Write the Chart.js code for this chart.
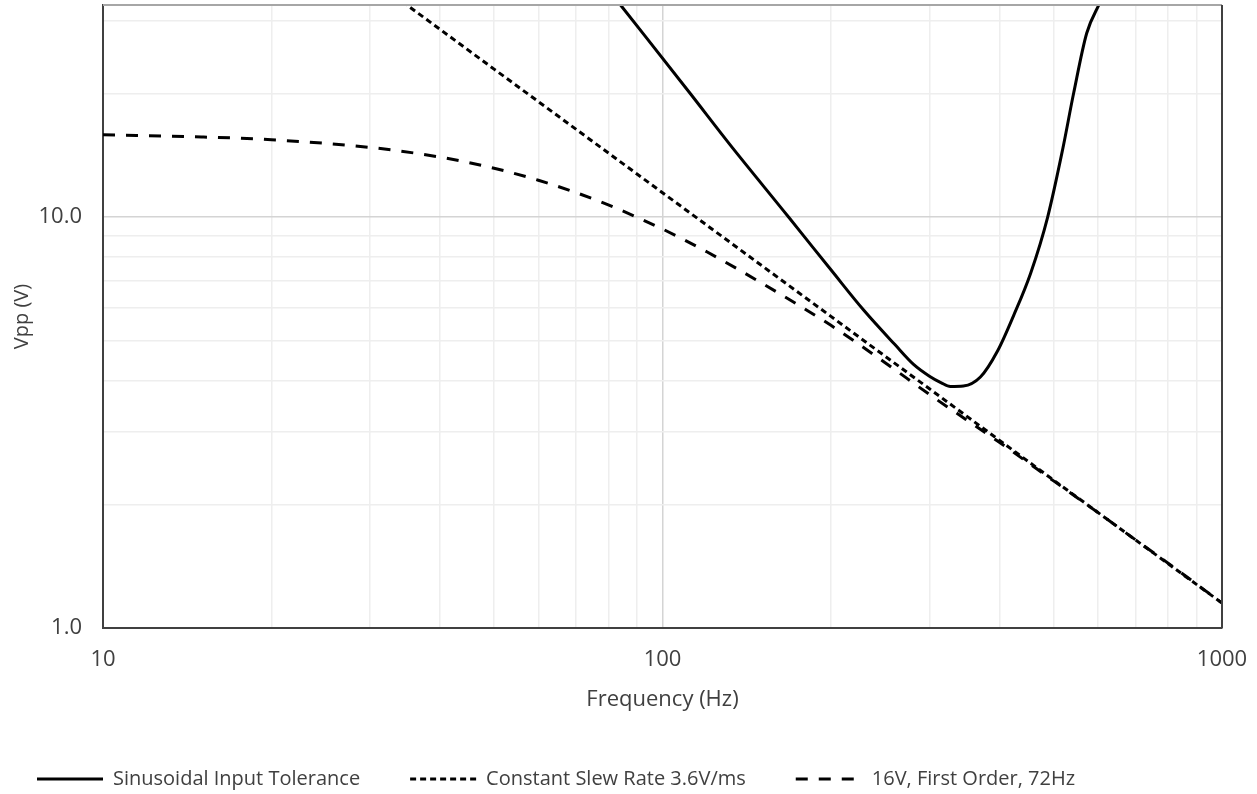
<!DOCTYPE html>
<html>
<head>
<meta charset="utf-8">
<script src="https://cdn.jsdelivr.net/npm/chart.js@4"></script>
<style>
  html, body { margin: 0; padding: 0; background: #fff; }
  #wrap { width: 1257px; height: 794px; }
</style>
</head>
<body>
<div id="wrap"><canvas id="chart"></canvas></div>
<script>
// Sinusoidal input tolerance (solid)
const sineFreq = [80, 84, 112, 132, 168, 186, 200, 229, 260, 281, 300, 315, 327, 345, 370, 397, 424, 455, 488, 519, 543, 573, 603, 620];
const sineVpp  = [35.8, 32.9, 20.0, 15.0, 10.0, 8.41, 7.44, 5.93, 4.9, 4.38, 4.1, 3.95, 3.87, 3.88, 4.08, 4.72, 5.75, 7.3, 10.0, 14.6, 20.0, 28.0, 32.9, 35.5];

// Constant slew rate 3.6V/ms (short dash)
const slewFreq = [30, 50, 100, 200, 300, 500, 1000];
const slewVpp  = [38.2, 22.9, 11.46, 5.73, 3.82, 2.29, 1.15];

// 16V first order 72Hz (long dash)
const firstFreq = [10, 15, 20, 30, 40, 50, 60, 70, 80, 100, 120, 150, 200, 250, 300, 400, 500, 600, 700, 800, 1000];
const firstVpp  = [15.85, 15.66, 15.42, 14.77, 13.99, 13.14, 12.29, 11.47, 10.70, 9.35, 8.23, 6.92, 5.45, 4.42, 3.70, 2.83, 2.28, 1.91, 1.64, 1.44, 1.15];

const xTicks = [10, 20, 30, 40, 50, 60, 70, 80, 90, 100, 200, 300, 400, 500, 600, 700, 800, 900, 1000];
const yTicks = [1, 2, 3, 4, 5, 6, 7, 8, 9, 10, 20, 30];
const xLabels = { 10: '10', 100: '100', 1000: '1000' };
const yLabels = { 1: '1.0', 10: '10.0' };

const FONT = 'Open Sans';
const TXT = '#404040';

function pts(xs, ys) {
  return xs.map((x, i) => ({ x: x, y: ys[i] }));
}

// frame around plot area (top and right edges)
const frame = {
  id: 'frame',
  afterLayout(chart) {
    // legend sits a bit left of its default start
    chart.legend.left -= 13;
    chart.legend.right -= 13;
  },
  afterDraw(chart) {
    const { ctx, chartArea: a } = chart;
    ctx.save();
    ctx.lineWidth = 2;
    ctx.strokeStyle = '#a6a6a6';
    ctx.beginPath();
    ctx.moveTo(a.left, a.top);
    ctx.lineTo(a.right, a.top);
    ctx.stroke();
    ctx.strokeStyle = '#404040';
    ctx.beginPath();
    ctx.moveTo(a.right, a.top);
    ctx.lineTo(a.right, a.bottom);
    ctx.stroke();
    ctx.restore();
  }
};

new Chart(document.getElementById('chart'), {
  type: 'scatter',
  data: {
    datasets: [
      {
        label: 'Sinusoidal Input Tolerance',
        data: pts(sineFreq, sineVpp),
        showLine: true,
        borderColor: '#000',
        borderWidth: 3,
        cubicInterpolationMode: 'monotone',
        pointRadius: 0
      },
      {
        label: 'Constant Slew Rate 3.6V/ms',
        data: pts(slewFreq, slewVpp),
        showLine: true,
        borderColor: '#000',
        borderWidth: 3,
        borderDash: [6, 4],
        tension: 0,
        pointRadius: 0
      },
      {
        label: '16V, First Order, 72Hz',
        data: pts(firstFreq, firstVpp),
        showLine: true,
        borderColor: '#000',
        borderWidth: 3,
        borderDash: [12, 11],
        cubicInterpolationMode: 'monotone',
        pointRadius: 0
      }
    ]
  },
  options: {
    responsive: true,
    maintainAspectRatio: false,
    animation: false,
    layout: { padding: { left: 0, right: 35, top: 5, bottom: -5 } },
    plugins: {
      tooltip: { enabled: false },
      legend: {
        position: 'bottom',
        align: 'start',
        labels: {
          usePointStyle: true,
          pointStyle: 'line',
          pointStyleWidth: 66,
          padding: 50,
          color: TXT,
          font: { family: FONT, size: 20 },
          generateLabels: chart => {
            const items = Chart.defaults.plugins.legend.labels.generateLabels(chart);
            items.forEach(it => {
              const ds = chart.data.datasets[it.datasetIndex];
              it.lineDash = ds.borderDash || [];
              it.lineWidth = ds.borderWidth;
              it.strokeStyle = ds.borderColor;
            });
            return items;
          }
        }
      }
    },
    scales: {
      x: {
        type: 'logarithmic',
        min: 10,
        max: 1000,
        afterBuildTicks: s => { s.ticks = xTicks.map(v => ({ value: v })); },
        afterFit: s => { s.height = 91; s.paddingRight = 0; s.paddingLeft = 0; },
        ticks: {
          autoSkip: false,
          maxRotation: 0,
          padding: 19,
          color: TXT,
          font: { family: FONT, size: 22 },
          callback: v => xLabels[v] || ''
        },
        grid: {
          drawTicks: false,
          color: c => (c.tick && c.tick.value === 100) ? '#d4d4d4' : '#eeeeee',
          lineWidth: 1.5
        },
        border: { color: '#404040', width: 2 },
        title: {
          display: true,
          text: 'Frequency (Hz)',
          color: TXT,
          font: { family: FONT, size: 22 },
          padding: { top: 0, bottom: 6 }
        }
      },
      y: {
        type: 'logarithmic',
        min: 1,
        max: 32.8,
        afterBuildTicks: s => { s.ticks = yTicks.map(v => ({ value: v })); },
        afterFit: s => { s.width = 103; s.paddingTop = 0; s.paddingBottom = 0; },
        ticks: {
          autoSkip: false,
          padding: 21,
          color: TXT,
          font: { family: FONT, size: 22 },
          callback: v => yLabels[v] || ''
        },
        grid: {
          drawTicks: false,
          color: c => (c.tick && c.tick.value === 10) ? '#d4d4d4' : '#eeeeee',
          lineWidth: 1.5
        },
        border: { color: '#404040', width: 2 },
        title: {
          display: true,
          text: 'Vpp (V)',
          color: TXT,
          font: { family: FONT, size: 20 },
          padding: { top: 10, bottom: 0 }
        }
      }
    }
  },
  plugins: [frame]
});
</script>
</body>
</html>
